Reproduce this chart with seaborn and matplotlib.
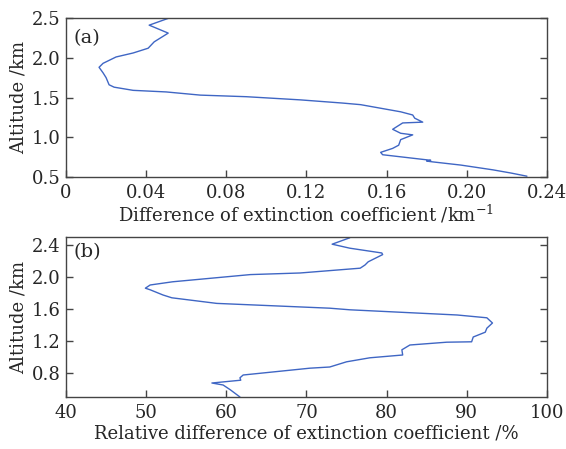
import matplotlib
matplotlib.use("Agg")
import matplotlib.pyplot as plt
import seaborn as sns
import pandas as pd

# (a) absolute difference of extinction coefficient (km^-1) vs altitude (km)
alt_a = [2.50, 2.41, 2.31, 2.20, 2.12, 2.06, 2.01, 1.93, 1.88, 1.81, 1.75, 1.66,
         1.63, 1.59, 1.57, 1.53, 1.51, 1.47, 1.43, 1.41, 1.32, 1.28, 1.24, 1.19,
         1.18, 1.10, 1.05, 1.03, 0.97, 0.90, 0.86, 0.81, 0.78, 0.71, 0.70, 0.69,
         0.65, 0.59, 0.55, 0.51]
diff_a = [0.0515, 0.0415, 0.051, 0.044, 0.041, 0.0335, 0.025, 0.0185, 0.0165,
          0.0185, 0.020, 0.0215, 0.024, 0.0335, 0.050, 0.067, 0.090, 0.117,
          0.138, 0.147, 0.167, 0.173, 0.174, 0.178, 0.168, 0.163, 0.167, 0.173,
          0.167, 0.166, 0.163, 0.157, 0.158, 0.182, 0.180, 0.183, 0.197, 0.213,
          0.222, 0.230]

# (b) relative difference of extinction coefficient (%) vs altitude (km)
alt_b = [2.49, 2.41, 2.36, 2.30, 2.28, 2.19, 2.15, 2.11, 2.05, 2.03, 1.94, 1.90,
         1.86, 1.84, 1.775, 1.74, 1.67, 1.61, 1.59, 1.525, 1.49, 1.425, 1.36,
         1.31, 1.25, 1.19, 1.185, 1.15, 1.09, 1.025, 0.99, 0.94, 0.875, 0.86,
         0.775, 0.74, 0.71, 0.675, 0.65, 0.59, 0.50]
rel_b = [75.4, 73.2, 75.4, 79.4, 79.5, 77.7, 77.3, 76.7, 69.2, 63.0, 53.3, 50.5,
         49.9, 50.5, 52.1, 53.2, 58.8, 72.9, 75.4, 88.8, 92.5, 93.2, 92.5, 92.3,
         90.8, 90.6, 87.5, 82.9, 81.9, 82.0, 77.9, 75.0, 72.9, 70.4, 62.1, 61.7,
         61.8, 58.2, 59.6, 60.5, 61.7]

xticks_a = [0, 0.04, 0.08, 0.12, 0.16, 0.20, 0.24]
xticklabels_a = ["0", "0.04", "0.08", "0.12", "0.16", "0.20", "0.24"]
yticks_a = [0.5, 1.0, 1.5, 2.0, 2.5]
xticks_b = [40, 50, 60, 70, 80, 90, 100]
yticks_b = [0.8, 1.2, 1.6, 2.0, 2.4]

sns.set_style("ticks")
plt.rcParams["font.family"] = ["DejaVu Serif"]
plt.rcParams["mathtext.fontset"] = "dejavuserif"

line_color = "#3f66c4"
spine_color = "#444444"

fig = plt.figure(figsize=(5.66, 4.49), dpi=100)
ax_a = fig.add_axes([0.1166, 0.6058, 0.8498, 0.3541])
ax_b = fig.add_axes([0.1166, 0.1158, 0.8498, 0.3564])

df_a = pd.DataFrame({"diff": diff_a, "alt": alt_a})
df_b = pd.DataFrame({"rel": rel_b, "alt": alt_b})

sns.lineplot(data=df_a, x="diff", y="alt", sort=False, estimator=None,
             color=line_color, linewidth=1.0, ax=ax_a)
sns.lineplot(data=df_b, x="rel", y="alt", sort=False, estimator=None,
             color=line_color, linewidth=1.0, ax=ax_b)

fs = 13
for ax in (ax_a, ax_b):
    for sp in ax.spines.values():
        sp.set_visible(True)
        sp.set_color(spine_color)
        sp.set_linewidth(1.0)
    ax.tick_params(axis="both", direction="in", length=5, width=1.0,
                   color=spine_color, labelsize=fs)
    ax.tick_params(axis="x", pad=5)
    ax.tick_params(axis="y", pad=4, right=True)

ax_a.set_xlim(0, 0.24)
ax_a.set_ylim(0.5, 2.5)
ax_a.set_xticks(xticks_a)
ax_a.set_xticklabels(xticklabels_a)
ax_a.set_yticks(yticks_a)
ax_a.set_yticklabels([f"{v:.1f}" for v in yticks_a])
ax_a.set_xlabel(r"Difference of extinction coefficient /km$^{-1}$", fontsize=fs, labelpad=0.5)
ax_a.set_ylabel("Altitude /km", fontsize=fs, labelpad=3)
ax_a.text(0.015, 0.93, "(a)", transform=ax_a.transAxes, fontsize=14, va="top")

ax_b.set_xlim(40, 100)
ax_b.set_ylim(0.5, 2.5)
ax_b.set_xticks(xticks_b)
ax_b.set_xticklabels([str(v) for v in xticks_b])
ax_b.set_yticks(yticks_b)
ax_b.set_yticklabels([f"{v:.1f}" for v in yticks_b])
ax_b.set_xlabel("Relative difference of extinction coefficient /%", fontsize=fs, labelpad=1.5)
ax_b.set_ylabel("Altitude /km", fontsize=fs, labelpad=3)
ax_b.text(0.015, 0.96, "(b)", transform=ax_b.transAxes, fontsize=14, va="top")

fig.savefig("out.png", dpi=100)
